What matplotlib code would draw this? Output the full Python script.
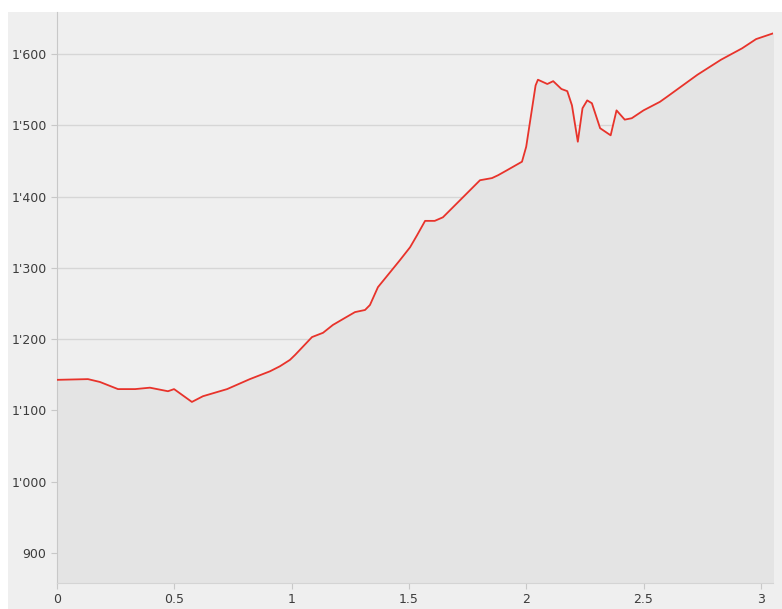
"""
Elevation profile: distance vs altitude with filled area under the line
"""

from matplotlib import pyplot as plt
from matplotlib.patches import Rectangle
from matplotlib.ticker import FuncFormatter, MultipleLocator


distance = [0.0, 0.132, 0.183, 0.26, 0.333, 0.396, 0.473, 0.499, 0.575, 0.622, 0.725,
            0.822, 0.908, 0.95, 0.993, 1.015, 1.087, 1.134, 1.176, 1.228, 1.27, 1.313,
            1.334, 1.368, 1.42, 1.462, 1.505, 1.535, 1.569, 1.61, 1.645, 1.718, 1.803,
            1.854, 1.88, 1.918, 1.982, 2.0,
            2.04, 2.05, 2.09, 2.115, 2.15, 2.175, 2.195, 2.22, 2.24, 2.26, 2.28, 2.315,
            2.36, 2.385, 2.42, 2.45, 2.50, 2.57, 2.60, 2.73, 2.83, 2.92, 2.98, 3.052]
altitude = [1143, 1144, 1140, 1130, 1130, 1132, 1127, 1130, 1112, 1120, 1130,
            1144, 1155, 1162, 1171, 1178, 1203, 1209, 1220, 1230, 1238, 1241,
            1248, 1273, 1294, 1311, 1329, 1346, 1366, 1366, 1371, 1395, 1423,
            1426, 1430, 1437, 1449, 1470,
            1556, 1564, 1558, 1562, 1551, 1548, 1528, 1477, 1524, 1535, 1531, 1496,
            1486, 1521, 1508, 1510, 1521, 1533, 1540, 1571, 1592, 1608, 1621, 1629]

y_ticks = [900, 1000, 1100, 1200, 1300, 1400, 1500, 1600]


def thousands(v, pos):
    v = int(round(v))
    if v >= 1000:
        return "%d'%03d" % (v // 1000, v % 1000)
    return str(v)


fig = plt.figure(figsize=(7.82, 6.09), dpi=100, facecolor='white')
fig.patches.append(Rectangle((8 / 782, 0), 1, (609 - 12) / 609, transform=fig.transFigure,
                             facecolor='#efefef', edgecolor='none', zorder=-10))

ax = fig.add_axes([57 / 782, 26 / 609, 716 / 782, 571 / 609])
ax.set_facecolor('#efefef')
ax.set_axisbelow(True)

ax.fill_between(distance, altitude, 858, color='#e4e4e4', zorder=1)
ax.plot(distance, altitude, color='#e8332b', linewidth=1.3, zorder=3)

ax.set_xlim(0, 3.052)
ax.set_ylim(858, 1659)
ax.xaxis.set_major_locator(MultipleLocator(0.5))
ax.set_yticks(y_ticks)
ax.yaxis.set_major_formatter(FuncFormatter(thousands))
ax.xaxis.set_major_formatter(FuncFormatter(lambda v, p: ('%g' % v)))

ax.grid(axis='y', color='#d6d6d6', linewidth=1)

for side in ['top', 'right']:
    ax.spines[side].set_visible(False)
ax.spines['left'].set_color('#c8c8c8')
ax.spines['bottom'].set_color('#d4d4d4')

ax.tick_params(axis='both', colors='#c8c8c8', labelcolor='#3c3c3c', labelsize=9, length=4)
ax.tick_params(axis='x', pad=3)

fig.savefig('out.png', dpi=100, facecolor='white')
